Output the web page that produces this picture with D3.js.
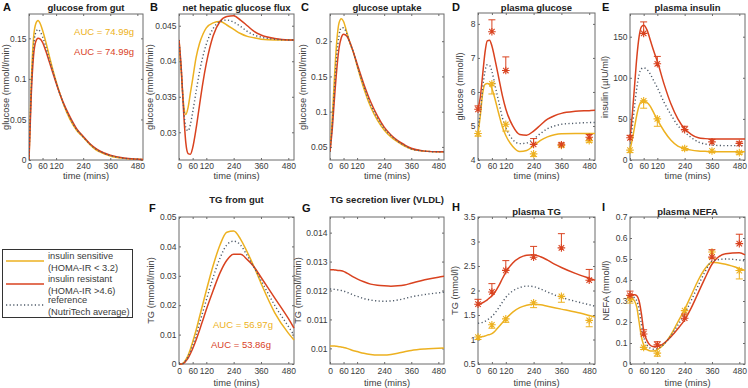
<!DOCTYPE html>
<html><head><meta charset="utf-8">
<script src="https://cdn.jsdelivr.net/npm/d3@7"></script>
<style>body{margin:0;background:#fff}svg{display:block;font-family:"Liberation Sans",Arial,sans-serif}</style>
</head><body>
<svg id="c" width="748" height="388"></svg>
<script>
// ---- data ----
const T = [0,10,20,30,40,50,60,75,90,105,120,150,180,210,240,270,300,330,360,420,480,505];
const xTicks = [0,60,120,240,360,480];
const tObs = [0,60,120,240,360,480];

const aSens = [0,0.095,0.15,0.168,0.172,0.168,0.16,0.145,0.128,0.112,0.097,0.071,0.051,0.037,0.028,0.019,0.012,0.008,0.005,0.002,0.0008,0.0005];
const aRes  = [0,0.08,0.128,0.146,0.15,0.149,0.145,0.134,0.121,0.108,0.095,0.072,0.054,0.039,0.029,0.02,0.0135,0.009,0.006,0.0024,0.001,0.0006];
const aRef  = [0,0.087,0.139,0.157,0.161,0.158,0.152,0.139,0.124,0.11,0.096,0.0715,0.0525,0.038,0.0285,0.0195,0.0128,0.0085,0.0055,0.0022,0.0009,0.0005];

const bSens = [0.043,0.0385,0.034,0.0325,0.0335,0.0355,0.0375,0.0405,0.0425,0.0438,0.0447,0.0454,0.0456,0.0451,0.0445,0.0439,0.0435,0.0433,0.0431,0.043,0.043,0.043];
const bRes  = [0.043,0.039,0.033,0.0285,0.027,0.0269,0.0278,0.0305,0.0338,0.037,0.0397,0.0436,0.0456,0.0463,0.0464,0.0458,0.045,0.0442,0.0437,0.0432,0.043,0.043];
const bRef  = [0.043,0.0388,0.0335,0.0307,0.0302,0.0311,0.0328,0.0357,0.0385,0.0407,0.0424,0.0446,0.0456,0.0458,0.0455,0.0449,0.0442,0.0437,0.0434,0.0431,0.043,0.043];

const cSens = [0.043,0.09,0.15,0.2,0.226,0.232,0.228,0.212,0.196,0.183,0.165,0.133,0.107,0.088,0.074,0.064,0.057,0.051,0.047,0.044,0.043,0.043];
const cRes  = [0.043,0.075,0.12,0.16,0.19,0.205,0.21,0.207,0.197,0.183,0.168,0.139,0.114,0.094,0.078,0.067,0.059,0.053,0.048,0.044,0.043,0.043];
const cRef  = [0.043,0.082,0.135,0.18,0.208,0.219,0.219,0.21,0.196,0.183,0.166,0.136,0.11,0.091,0.076,0.066,0.058,0.052,0.047,0.044,0.043,0.043];

const dSens = [4.78,5.3,5.95,6.22,6.25,6.22,6.1,5.75,5.35,4.98,4.72,4.4,4.25,4.28,4.42,4.58,4.68,4.74,4.77,4.78,4.78,4.78];
const dRes  = [5.5,5.85,6.5,7.15,7.5,7.52,7.35,6.9,6.4,5.9,5.5,5.0,4.75,4.73,4.85,5.03,5.2,5.3,5.37,5.43,5.45,5.46];
const dRef  = [5.0,5.4,6.1,6.6,6.8,6.78,6.6,6.15,5.7,5.25,4.95,4.6,4.48,4.5,4.62,4.78,4.92,5.0,5.05,5.08,5.1,5.1];
const dObsRes = [5.49,7.77,6.63,4.46,4.45,4.67];
const dErrRes = [0.1,0.35,0.4,0.17,0.05,0.08];
const dObsSens = [4.78,6.24,5.05,4.18,4.43,4.57];
const dErrSens = [0.08,0.3,0.2,0.08,0.05,0.05];

const eSens = [12,25,40,55,66,71,72,70,65,57,49,35,24,17,14,12,11,10.5,10,10,10,10];
const eRes  = [26,55,90,125,150,162,164,158,145,132,120,92,68,50,38,31,27,26,25.5,25.5,25.5,25.5];
const eRef  = [20,40,65,88,104,111,112,110,104,96,88,70,55,42,34,27,22,19.5,18,17.5,17.5,17.5];
const eObsRes = [27,154,117,37,22,20];
const eErrRes = [3,14,9,4,3,2];
const eObsSens = [12,72,50,14,11,9];
const eErrSens = [3,9,9,2,2,2];

const fSens = [0,0,0.0004,0.0015,0.003,0.005,0.0075,0.0115,0.016,0.0205,0.025,0.0335,0.0405,0.0448,0.0452,0.0425,0.038,0.033,0.0275,0.0175,0.0105,0.0082];
const fRes  = [0,0,0.0002,0.001,0.002,0.0035,0.0052,0.0082,0.0115,0.015,0.0185,0.025,0.031,0.0353,0.0373,0.0373,0.0355,0.033,0.0295,0.0225,0.0155,0.0122];
const fRef  = [0,0,0.0003,0.0012,0.0025,0.0042,0.0063,0.0098,0.0138,0.0178,0.0218,0.0295,0.036,0.0405,0.0418,0.0405,0.0368,0.0328,0.0285,0.02,0.0128,0.0098];

const gSens = [0.01008,0.01008,0.01008,0.01007,0.01006,0.01005,0.01003,0.01,0.00996,0.00992,0.00989,0.00983,0.00979,0.00977,0.00977,0.00979,0.00983,0.00988,0.00993,0.00998,0.01,0.01001];
const gRes  = [0.01272,0.01272,0.01271,0.0127,0.01269,0.01268,0.01266,0.0126,0.01253,0.01246,0.0124,0.0123,0.01222,0.01218,0.01216,0.01215,0.01216,0.01219,0.01225,0.01237,0.01246,0.01249];
const gRef  = [0.01205,0.01205,0.01204,0.01203,0.01201,0.012,0.01198,0.01194,0.01189,0.01184,0.0118,0.01172,0.01167,0.01164,0.01163,0.01164,0.01167,0.01172,0.01178,0.01186,0.01192,0.01194];

const hSens = [1.05,1.05,1.06,1.07,1.09,1.1,1.12,1.18,1.26,1.34,1.42,1.56,1.65,1.7,1.72,1.71,1.68,1.65,1.62,1.56,1.49,1.46];
const hRes  = [1.72,1.73,1.75,1.78,1.81,1.85,1.89,1.98,2.1,2.24,2.37,2.56,2.67,2.72,2.73,2.69,2.62,2.54,2.47,2.35,2.25,2.21];
const hRef  = [1.33,1.34,1.35,1.37,1.4,1.43,1.47,1.55,1.65,1.76,1.86,1.99,2.06,2.09,2.08,2.03,1.97,1.91,1.86,1.78,1.71,1.68];
const hObsRes = [1.72,1.97,2.41,2.68,2.87,2.21];
const hErrRes = [0.1,0.17,0.2,0.22,0.29,0.22];
const hObsSens = [1.05,1.3,1.42,1.75,1.88,1.39];
const hErrSens = [0.05,0.07,0.07,0.1,0.12,0.13];

const iSens = [0.31,0.31,0.3,0.27,0.2,0.13,0.09,0.068,0.062,0.062,0.068,0.095,0.14,0.2,0.26,0.33,0.4,0.455,0.485,0.475,0.455,0.445];
const iRes  = [0.33,0.33,0.33,0.325,0.3,0.24,0.16,0.11,0.088,0.082,0.083,0.1,0.13,0.168,0.21,0.27,0.34,0.41,0.475,0.525,0.53,0.52];
const iRef  = [0.32,0.32,0.315,0.3,0.26,0.19,0.13,0.09,0.075,0.07,0.073,0.095,0.135,0.185,0.24,0.305,0.375,0.44,0.49,0.5,0.495,0.49];
const iObsRes = [0.327,0.143,0.091,0.218,0.509,0.573];
const iErrRes = [0.02,0.02,0.015,0.02,0.035,0.045];
const iObsSens = [0.31,0.079,0.052,0.254,0.533,0.445];
const iErrSens = [0.02,0.01,0.015,0.02,0.03,0.04];

const aTicks = [0,0.05,0.1,0.15];
const bTicks = [0.03,0.035,0.04,0.045];
const cTicks = [0.05,0.1,0.15,0.2];
const dTicks = [4,5,6,7,8];
const eTicks = [0,50,100,150];
const fTicks = [0,0.01,0.02,0.03,0.04,0.05];
const gTicks = [0.01,0.011,0.012,0.013,0.014];
const hTicks = [0.5,1,1.5,2,2.5,3,3.5];
const iTicks = [0,0.1,0.2,0.3,0.4,0.5,0.6,0.7];

const legendLabels = [["insulin sensitive","(HOMA-IR < 3.2)"],["insulin resistant","(HOMA-IR >4.6)"],["reference","(NutriTech average)"]];
const aucA = ["AUC = 74.99g","AUC = 74.99g"];
const aucF = ["AUC = 56.97g","AUC = 53.86g"];

// ---- style ----
const YEL = "#EDB120", RED = "#D9421F", REF = "#4E5A68", AX = "#6b6b6b", TXT = "#3a3a3a";
const TICKFS = "8.5px", LABFS = "9.3px";

const svg = d3.select("#c");
const rowTop = [14,160], rowBot = [217,364];
const panels = [
  {L:"A",title:"glucose from gut",yl:"glucose (mmol/l/min)",x0:29,x1:143,y:rowTop,yd:[0,0.18],yt:aTicks,s:aSens,r:aRes,f:aRef,lx:3,ylx:7,row:0},
  {L:"B",title:"net hepatic glucose flux",yl:"glucose (mmol/l/min)",x0:179,x1:294,y:rowTop,yd:[0.0261,0.04665],yt:bTicks,s:bSens,r:bRes,f:bRef,lx:150,ylx:151,row:0},
  {L:"C",title:"glucose uptake",yl:"glucose (mmol/l/min)",x0:330,x1:444,y:rowTop,yd:[0.0314,0.2386],yt:cTicks,s:cSens,r:cRes,f:cRef,lx:301,ylx:304,row:0},
  {L:"D",title:"plasma glucose",yl:"glucose (mmol/l)",x0:478,x1:595,y:[13,160],yd:[4,8.32],yt:dTicks,s:dSens,r:dRes,f:dRef,lx:452,ylx:461,row:0,
   obs:{r:dObsRes,re:dErrRes,s:dObsSens,se:dErrSens}},
  {L:"E",title:"plasma insulin",yl:"insulin (\u00b5IU/ml)",x0:630,x1:745,y:rowTop,yd:[0,177.6],yt:eTicks,s:eSens,r:eRes,f:eRef,lx:602,ylx:606,row:0,
   obs:{r:eObsRes,re:eErrRes,s:eObsSens,se:eErrSens}},
  {L:"F",title:"TG from gut",yl:"TG (mmol/l/min)",x0:179,x1:294,y:rowBot,yd:[0,0.05],yt:fTicks,s:fSens,r:fRes,f:fRef,lx:149,ylx:152,row:1,ty:202.5},
  {L:"G",title:"TG secretion liver (VLDL)",yl:"TG (mmol/l/min)",x0:330,x1:444,y:rowBot,yd:[0.00946,0.01454],yt:gTicks,s:gSens,r:gRes,f:gRef,lx:302,ylx:299,row:1,ty:202.5},
  {L:"H",title:"plasma TG",yl:"TG (mmol/l)",x0:478,x1:595,y:rowBot,yd:[0.5,3.5],yt:hTicks,s:hSens,r:hRes,f:hRef,lx:452,ylx:456,row:1,ty:214.5,
   obs:{r:hObsRes,re:hErrRes,s:hObsSens,se:hErrSens}},
  {L:"I",title:"plasma NEFA",yl:"NEFA (mmol/l)",x0:630,x1:745,y:rowBot,yd:[0,0.7],yt:iTicks,s:iSens,r:iRes,f:iRef,lx:602,ylx:607,row:1,ty:214.5,
   obs:{r:iObsRes,re:iErrRes,s:iObsSens,se:iErrSens}}
];

panels.forEach((p,pi)=>{
  const x = d3.scaleLinear().domain([0,505]).range([p.x0,p.x1]);
  const y = d3.scaleLinear().domain(p.yd).range([p.y[1],p.y[0]]);
  const g = svg.append("g");
  const cid = "clip"+pi;
  svg.append("clipPath").attr("id",cid).append("rect").attr("x",p.x0).attr("y",p.y[0]-6).attr("width",p.x1-p.x0+4).attr("height",p.y[1]-p.y[0]+12);

  const axB = d3.axisBottom(x).tickValues(xTicks).tickSize(-2).tickPadding(3).tickFormat(d3.format("d"));
  const axT = d3.axisTop(x).tickValues(xTicks).tickSize(-2).tickFormat("");
  const axL = d3.axisLeft(y).tickValues(p.yt).tickSize(-2).tickPadding(2.5).tickFormat(d=>String(+d.toFixed(4)));
  const axR = d3.axisRight(y).tickValues(p.yt).tickSize(-2).tickFormat("");
  const style = sel=>{sel.selectAll("path").remove();sel.selectAll("line").attr("stroke",AX);
    sel.selectAll("text").attr("fill",TXT).style("font-size",TICKFS).style("font-family","Liberation Sans, Arial, sans-serif");};
  g.append("g").attr("transform",`translate(0,${p.y[1]})`).call(axB).call(style).call(s=>s.selectAll("text").attr("y",p.row?9.5:9).attr("dy",0));
  g.append("g").attr("transform",`translate(0,${p.y[0]})`).call(axT).call(style);
  g.append("g").attr("transform",`translate(${p.x0},0)`).call(axL).call(style);
  g.append("g").attr("transform",`translate(${p.x1},0)`).call(axR).call(style);
  g.append("rect").attr("x",p.x0).attr("y",p.y[0]).attr("width",p.x1-p.x0).attr("height",p.y[1]-p.y[0])
    .attr("fill","none").attr("stroke",AX).attr("stroke-width",1);

  g.append("text").attr("x",(p.x0+p.x1)/2).attr("y",p.row?385.5:179).attr("text-anchor","middle")
    .attr("fill",TXT).style("font-size",LABFS).text("time (mins)");
  g.append("text").attr("transform",`translate(${p.ylx},${(p.y[0]+p.y[1])/2}) rotate(-90)`).attr("text-anchor","middle")
    .attr("dominant-baseline","middle").attr("fill",TXT).style("font-size",LABFS).text(p.yl);
  g.append("text").attr("x",(p.x0+p.x1)/2).attr("y",p.row?p.ty:10.5).attr("text-anchor","middle")
    .attr("fill","#222").style("font-size","9.5px").style("font-weight","bold").text(p.title);
  g.append("text").attr("x",p.lx).attr("y",p.row?(p.L==="F"||p.L==="G"?212:211):11).attr("fill","#111")
    .style("font-size","11px").style("font-weight","bold").text(p.L);

  const line = d3.line().x((d,i)=>x(T[i])).y(d=>y(d)).curve(d3.curveMonotoneX);
  const cg = g.append("g").attr("clip-path",`url(#${cid})`);
  cg.append("path").attr("d",line(p.s)).attr("fill","none").attr("stroke",YEL).attr("stroke-width",1.5);
  cg.append("path").attr("d",line(p.r)).attr("fill","none").attr("stroke",RED).attr("stroke-width",1.5);
  cg.append("path").attr("d",line(p.f)).attr("fill","none").attr("stroke",REF).attr("stroke-width",1.4).attr("stroke-dasharray","1.2,2.4");

  if(p.obs){
    const star = (cx,cy,col)=>{
      const r=3.8, d=r*0.72;
      g.append("path").attr("d",`M${cx-r},${cy}H${cx+r}M${cx},${cy-r}V${cy+r}M${cx-d},${cy-d}L${cx+d},${cy+d}M${cx-d},${cy+d}L${cx+d},${cy-d}`)
        .attr("stroke",col).attr("stroke-width",1.1).attr("fill","none");
    };
    const err = (cx,v,e,dir,col)=>{
      const y0=y(v), y1=y(v+dir*e);
      g.append("path").attr("d",`M${cx},${y0}V${y1}M${cx-3.5},${y1}H${cx+3.5}`).attr("stroke",col).attr("stroke-width",1).attr("fill","none");
    };
    tObs.forEach((t,k)=>{ err(x(t),p.obs.s[k],p.obs.se[k],-1,YEL); star(x(t),y(p.obs.s[k]),YEL); });
    tObs.forEach((t,k)=>{ err(x(t),p.obs.r[k],p.obs.re[k],1,RED); star(x(t),y(p.obs.r[k]),RED); });
  }
});

svg.append("text").attr("x",134).attr("y",35).attr("text-anchor","end").attr("fill",YEL).style("font-size","9.5px").text(aucA[0]);
svg.append("text").attr("x",134).attr("y",55).attr("text-anchor","end").attr("fill",RED).style("font-size","9.5px").text(aucA[1]);
svg.append("text").attr("x",213).attr("y",328).attr("fill",YEL).style("font-size","9.5px").text(aucF[0]);
svg.append("text").attr("x",211).attr("y",348).attr("fill",RED).style("font-size","9.5px").text(aucF[1]);

const lg = svg.append("g");
lg.append("rect").attr("x",2.5).attr("y",249.5).attr("width",130).attr("height",68).attr("fill","#fff").attr("stroke","#333").attr("stroke-width",1);
const lcol=[YEL,RED,REF], ly=[261,284,305];
legendLabels.forEach((lab,i)=>{
  const ln = lg.append("line").attr("x1",6).attr("x2",44).attr("y1",ly[i]).attr("y2",ly[i]).attr("stroke",lcol[i]).attr("stroke-width",1.5);
  if(i===2) ln.attr("stroke-dasharray","1.2,2.4").attr("stroke-width",1.4);
  lg.append("text").attr("x",48).attr("y",ly[i]-2).attr("fill",TXT).style("font-size","9.3px").text(lab[0]);
  lg.append("text").attr("x",48).attr("y",ly[i]+9.5).attr("fill",TXT).style("font-size","9.3px").text(lab[1]);
});
</script>
</body></html>
